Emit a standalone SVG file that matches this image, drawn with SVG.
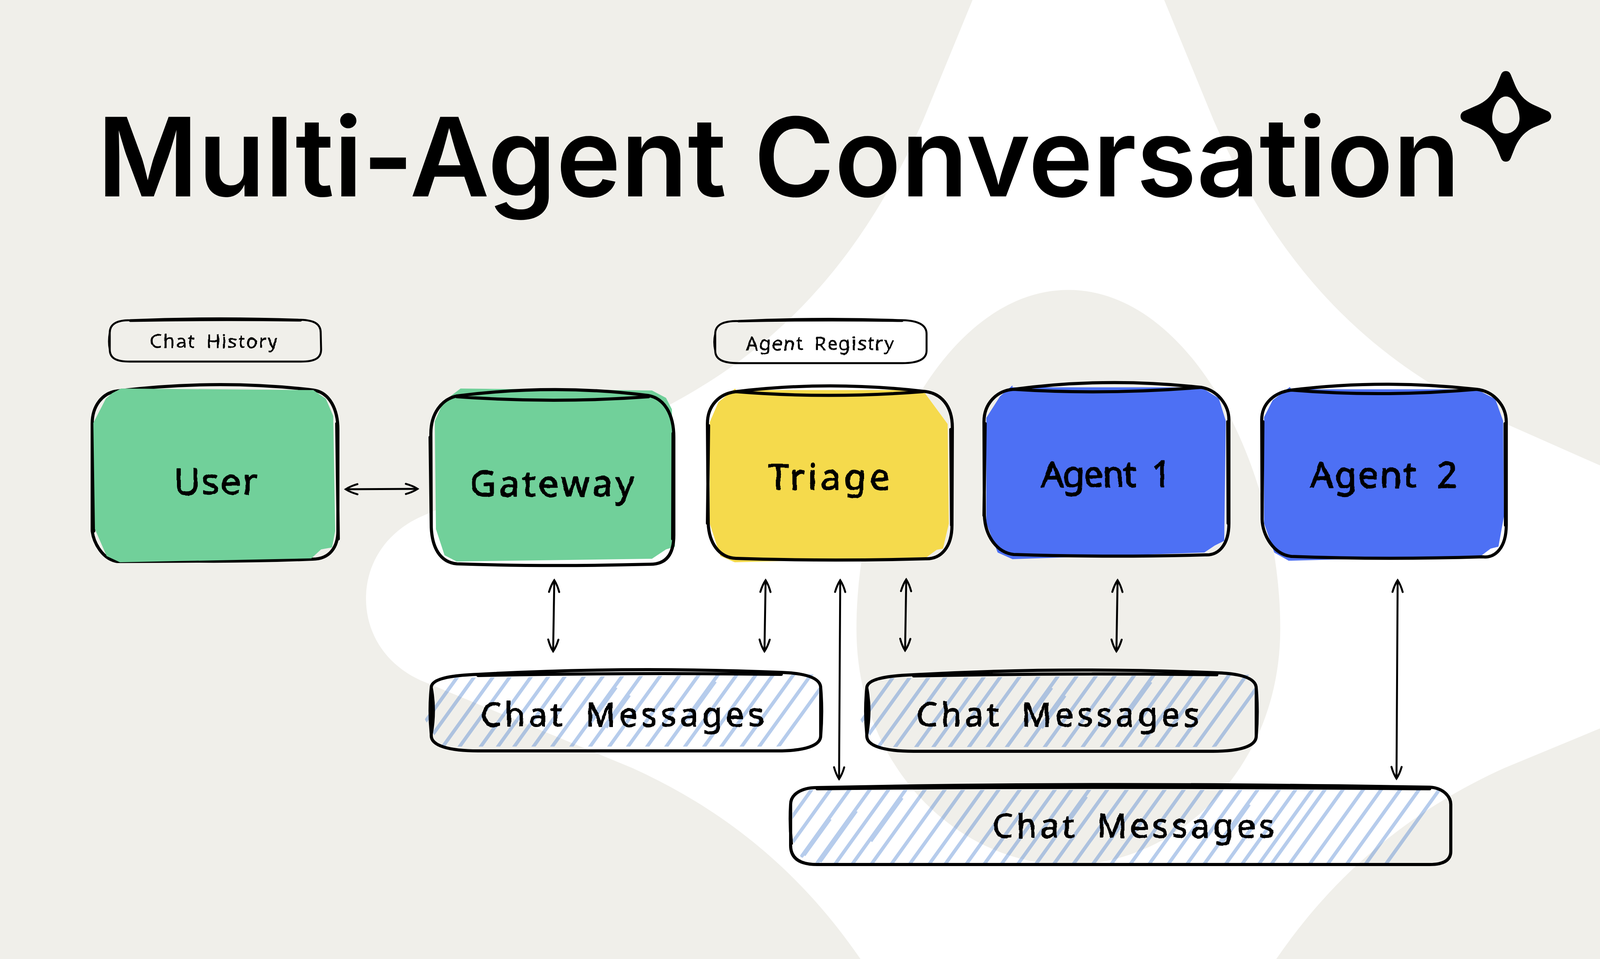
<svg xmlns="http://www.w3.org/2000/svg" xmlns:xlink="http://www.w3.org/1999/xlink" width="4138" height="2456" viewBox="0 0 4138 2456">
<style>
.title{font-family:"Inter","Liberation Sans",sans-serif;font-weight:600;font-size:280px;fill:#000}
.hand{font-family:"Noto Sans","DejaVu Sans",sans-serif;fill:#000;stroke:#000;stroke-linejoin:round;filter:url(#rough);word-spacing:.22em}
.big{font-size:92px;stroke-width:2.5px}
.mid{font-size:84px;stroke-width:2px}
.small{font-size:48px;stroke-width:.8px}
.line{fill:none;stroke:#000;stroke-width:8;stroke-linecap:round;stroke-linejoin:round}
.thin{fill:none;stroke:#000;stroke-width:5;stroke-linecap:round;stroke-linejoin:round}
.conn{fill:none;stroke:#000;stroke-width:5;stroke-linecap:round;marker-start:url(#head);marker-end:url(#head)}
.hatch{fill:none;stroke:#4980d0;stroke-opacity:.4;stroke-width:9}
.green{fill:#71d09a}.yellow{fill:#f5da4c}.blue{fill:#4d70f4}
</style>
<defs>
<path id="star" fill-rule="evenodd" d="M0 -116C6 -116 10 -113 12.500 -107L24 -79C35 -54 50 -39 72 -29L107 -13.500C112.500 -11 116 -6 116 0C116 6 112.500 11 107 13.500L72 28C50 38 35 54 24 78L12.500 107C10 113 6 116 0 116C-6 116 -10 113 -12.500 107L-24 78C-35 54 -50 38 -72 28L-107 13.500C-112.500 11 -116 6 -116 0C-116 -6 -112.500 -11 -107 -13.500L-72 -29C-50 -39 -35 -54 -24 -79L-12.500 -107C-10 -113 -6 -116 0 -116ZM0 -51C-20 -51 -35 -22 -35 5C-35 28 -18 44 0 44C18 44 35 28 35 5C35 -22 20 -51 0 -51Z"/>
<marker id="head" markerUnits="userSpaceOnUse" markerWidth="44" markerHeight="40" viewBox="-38 -20 44 40" refX="0" refY="0" orient="auto-start-reverse" overflow="visible">
<path d="M-30 -13Q-12 -8 0 0Q-12 8 -30 13" fill="none" stroke="#000" stroke-width="5" stroke-linecap="round"/>
</marker>
<filter id="rough" x="-5%" y="-15%" width="110%" height="130%">
<feTurbulence type="fractalNoise" baseFrequency=".035" numOctaves="2" seed="4" result="n"/>
<feDisplacementMap in="SourceGraphic" in2="n" scale="7" xChannelSelector="R" yChannelSelector="G"/>
</filter>
<clipPath id="cmclip"><path d="M1140 1736L2082 1727L2097 1762L2090 1870L2050 1905L1990 1912L1130 1912L1110 1880L1088 1843L1100 1770Z"/></clipPath>
<clipPath id="lgclip"><path d="M2060 2023L3690 2023L3712 2055L3704 2110L3660 2180L3560 2210L2090 2210L2050 2195L2028 2150L2030 2050Z"/></clipPath>
<path id="cmhatch" class="hatch" d="M1181 1720l-155 215M1224 1720l-155 215M1272 1720l-155 215M1315 1720l-155 215M1369 1720l-155 215M1413 1720l-155 215M1455 1720l-155 215M1504 1720l-155 215M1552 1720l-155 215M1601 1720l-155 215M1649 1720l-155 215M1698 1720l-155 215M1746 1720l-155 215M1795 1720l-155 215M1844 1720l-155 215M1892 1720l-155 215M1941 1720l-155 215M1985 1720l-155 215M2037 1720l-155 215M2082 1720l-155 215M2131 1720l-155 215M1577 1760l-70 97M1831 1745l-70 97M1611 1780l-60 83"/>
<path id="cmline" class="line" d="M1224 1727Q1600 1706 2000 1722C2060 1724 2101 1735 2101 1762L2101 1884C2101 1910 2060 1923 1990 1923L1224 1923C1150 1923 1104 1910 1104 1884L1104 1761C1104 1735 1170 1729 1224 1727ZM1224 1730Q1600 1722 2000 1727M1104 1761Q1098 1820 1104 1880Q1115 1820 1104 1761M2101 1762Q2106 1820 2101 1884"/>
</defs>

<rect id="background" width="4138" height="2456" fill="#f0efea"/>
<use id="bg-star" href="#star" transform="translate(2735 1533) scale(15.500)" fill="#fff"/>
<text id="title" class="title" x="249" y="503">Multi-Agent Conversation</text>
<use id="logo" href="#star" transform="translate(3855 298)" fill="#000"/>

<g id="connectors">
<path class="conn" d="M885 1253L1069 1252"/>
<path class="conn" d="M1419 1486L1416 1668"/>
<path class="conn" d="M1960 1486L1957 1668"/>
<path class="conn" d="M2151 1486L2148 1995"/>
<path class="conn" d="M2320 1484L2317 1666"/>
<path class="conn" d="M2861 1486L2858 1668"/>
<path class="conn" d="M3578 1486L3575 1994"/>
</g>

<g id="chat-history">
<path class="thin" d="M333 820Q550 811 770 819C805 820 821 830 821 852L822 895C822 918 805 926 770 926L333 926C298 926 281 918 281 895L281 852C281 830 298 820 333 820ZM333 822Q550 818 770 821M281 852Q277 875 281 895"/>
<text class="hand small" x="384" y="891" textLength="326">Chat History</text>
</g>
<g id="agent-registry">
<path class="thin" d="M1890 822Q2100 812 2310 820C2350 821 2372 832 2372 855L2372 898C2372 920 2350 930 2310 930L1890 930C1850 930 1831 920 1831 898L1831 855C1831 832 1850 822 1890 822ZM1890 823Q2100 819 2310 822M1831 855Q1826 875 1831 898"/>
<text class="hand small" x="1910" y="897" textLength="378">Agent Registry</text>
</g>

<g id="user">
<path class="line" d="M236 1085C236 1040 262 1005 302 1001Q560 970 802 999C845 1005 865 1050 865 1100L865 1360C865 1400 845 1432 800 1432Q650 1438 506 1437L300 1438C262 1432 240 1390 236 1360ZM238 1090L240 1360M862 1085L866 1380"/>
<path class="green" d="M310 995L802 999L834 1021L853 1065L858 1360L850 1402L822 1407L797 1430L307 1440L273 1424L243 1355L239 1083L271 1021L287 1007Z"/>
<text class="hand big" x="445" y="1266" textLength="214">User</text>
</g>
<g id="gateway">
<path class="green" d="M1179 995L1669 1000L1705 1019L1720 1048L1728 1400L1705 1407L1669 1431L1169 1438L1138 1422L1116 1355L1113 1079L1133 1034L1154 1014Z"/>
<path class="line" d="M1103 1110C1103 1060 1130 1022 1170 1014Q1420 982 1660 1013C1700 1020 1725 1060 1725 1120L1725 1370C1725 1420 1705 1445 1665 1445Q1400 1452 1170 1444C1125 1440 1106 1400 1104 1350ZM1170 1016Q1420 1034 1660 1016M1101 1120L1104 1350M1723 1110L1722 1380"/>
<text class="hand big" x="1203" y="1271" textLength="420">Gateway</text>
</g>
<g id="triage">
<path class="yellow" d="M1882 995L1884 999L2362 999L2426 1086L2429 1341L2414 1405L2398 1408L2372 1427L1881 1440L1844 1424L1817 1341L1817 1081L1839 1030Z"/>
<path class="line" d="M1811 1085C1811 1040 1840 1008 1884 1003Q2120 974 2362 1002C2410 1005 2438 1040 2438 1095L2437 1345C2437 1400 2410 1432 2370 1431Q2120 1438 1884 1430C1840 1428 1815 1390 1813 1340ZM1884 1003Q2120 1022 2362 1003M1814 1090L1811 1340M2434 1100L2436 1345"/>
<text class="hand big" x="1967" y="1254" textLength="311">Triage</text>
</g>
<g id="agent-1">
<path class="blue" d="M2592 987L2592 992L3075 992L3120 1020L3138 1078L3134 1385L3110 1397L3083 1415L2592 1432L2554 1415L2525 1340L2525 1070L2560 1015Z"/>
<path class="line" d="M2519 1080C2519 1035 2550 1000 2595 997Q2830 965 3075 992C3120 1000 3146 1040 3146 1075L3146 1340C3146 1395 3120 1423 3085 1421Q2830 1428 2595 1420C2550 1415 2522 1370 2520 1320ZM2595 997Q2830 1012 3075 992M2522 1085L2519 1320M3143 1080L3144 1340"/>
<text class="hand big" x="2665" y="1247" textLength="334">Agent 1</text>
</g>
<g id="agent-2">
<path class="blue" d="M3302 991L3306 997L3780 997L3828 1022L3848 1078L3850 1323L3836 1400L3816 1405L3792 1423L3299 1436L3262 1415L3236 1340L3236 1068L3258 1025Z"/>
<path class="line" d="M3230 1075C3230 1035 3260 1005 3306 999Q3540 970 3780 997C3825 1002 3856 1040 3856 1080L3856 1345C3856 1400 3830 1430 3795 1426Q3540 1434 3306 1425C3260 1420 3232 1370 3231 1330ZM3306 999Q3540 1018 3780 997M3233 1080L3231 1330M3853 1085L3854 1345"/>
<text class="hand big" x="3354" y="1249" textLength="376">Agent 2</text>
</g>

<g id="chat-messages-1">
<g clip-path="url(#cmclip)"><use href="#cmhatch"/></g>
<use href="#cmline"/>
<text class="hand mid" x="1230" y="1860" textLength="725">Chat Messages</text>
</g>
<g id="chat-messages-2">
<g transform="translate(1115 1)"><g clip-path="url(#cmclip)"><use href="#cmhatch"/></g><use href="#cmline"/></g>
<text class="hand mid" x="2347" y="1860" textLength="723">Chat Messages</text>
</g>
<g id="chat-messages-3">
<g clip-path="url(#lgclip)"><path class="hatch" d="M2083 2015l-158 220M2131 2015l-158 220M2180 2015l-158 220M2232 2015l-158 220M2280 2015l-158 220M2324 2015l-158 220M2373 2015l-158 220M2424 2015l-158 220M2471 2015l-158 220M2521 2015l-158 220M2562 2015l-158 220M2616 2015l-158 220M2662 2015l-158 220M2706 2015l-158 220M2748 2015l-158 220M2794 2015l-158 220M2840 2015l-158 220M2890 2015l-158 220M2940 2015l-158 220M2987 2015l-158 220M3036 2015l-158 220M3084 2015l-158 220M3133 2015l-158 220M3181 2015l-158 220M3225 2015l-158 220M3280 2015l-158 220M3322 2015l-158 220M3365 2015l-158 220M3397 2015l-158 220M3443 2015l-158 220M3495 2015l-158 220M3541 2015l-158 220M3590 2015l-158 220M3638 2015l-158 220M3690 2015l-158 220M2125 2097l-67 93M2192 2077l-93 130M2309 2043l-80 111M2781 2040l-60 84M3198 2060l-70 98"/></g>
<path class="line" d="M2092 2017Q2800 2002 3660 2016C3695 2018 3714 2040 3714 2060L3714 2180C3714 2203 3695 2214 3660 2214L2092 2214C2050 2214 2024 2200 2024 2165L2024 2060C2024 2035 2050 2017 2092 2017ZM2092 2020Q2800 2013 3660 2020M2024 2060Q2021 2110 2026 2160"/>
<text class="hand mid" x="2540" y="2145" textLength="723">Chat Messages</text>
</g>
</svg>
